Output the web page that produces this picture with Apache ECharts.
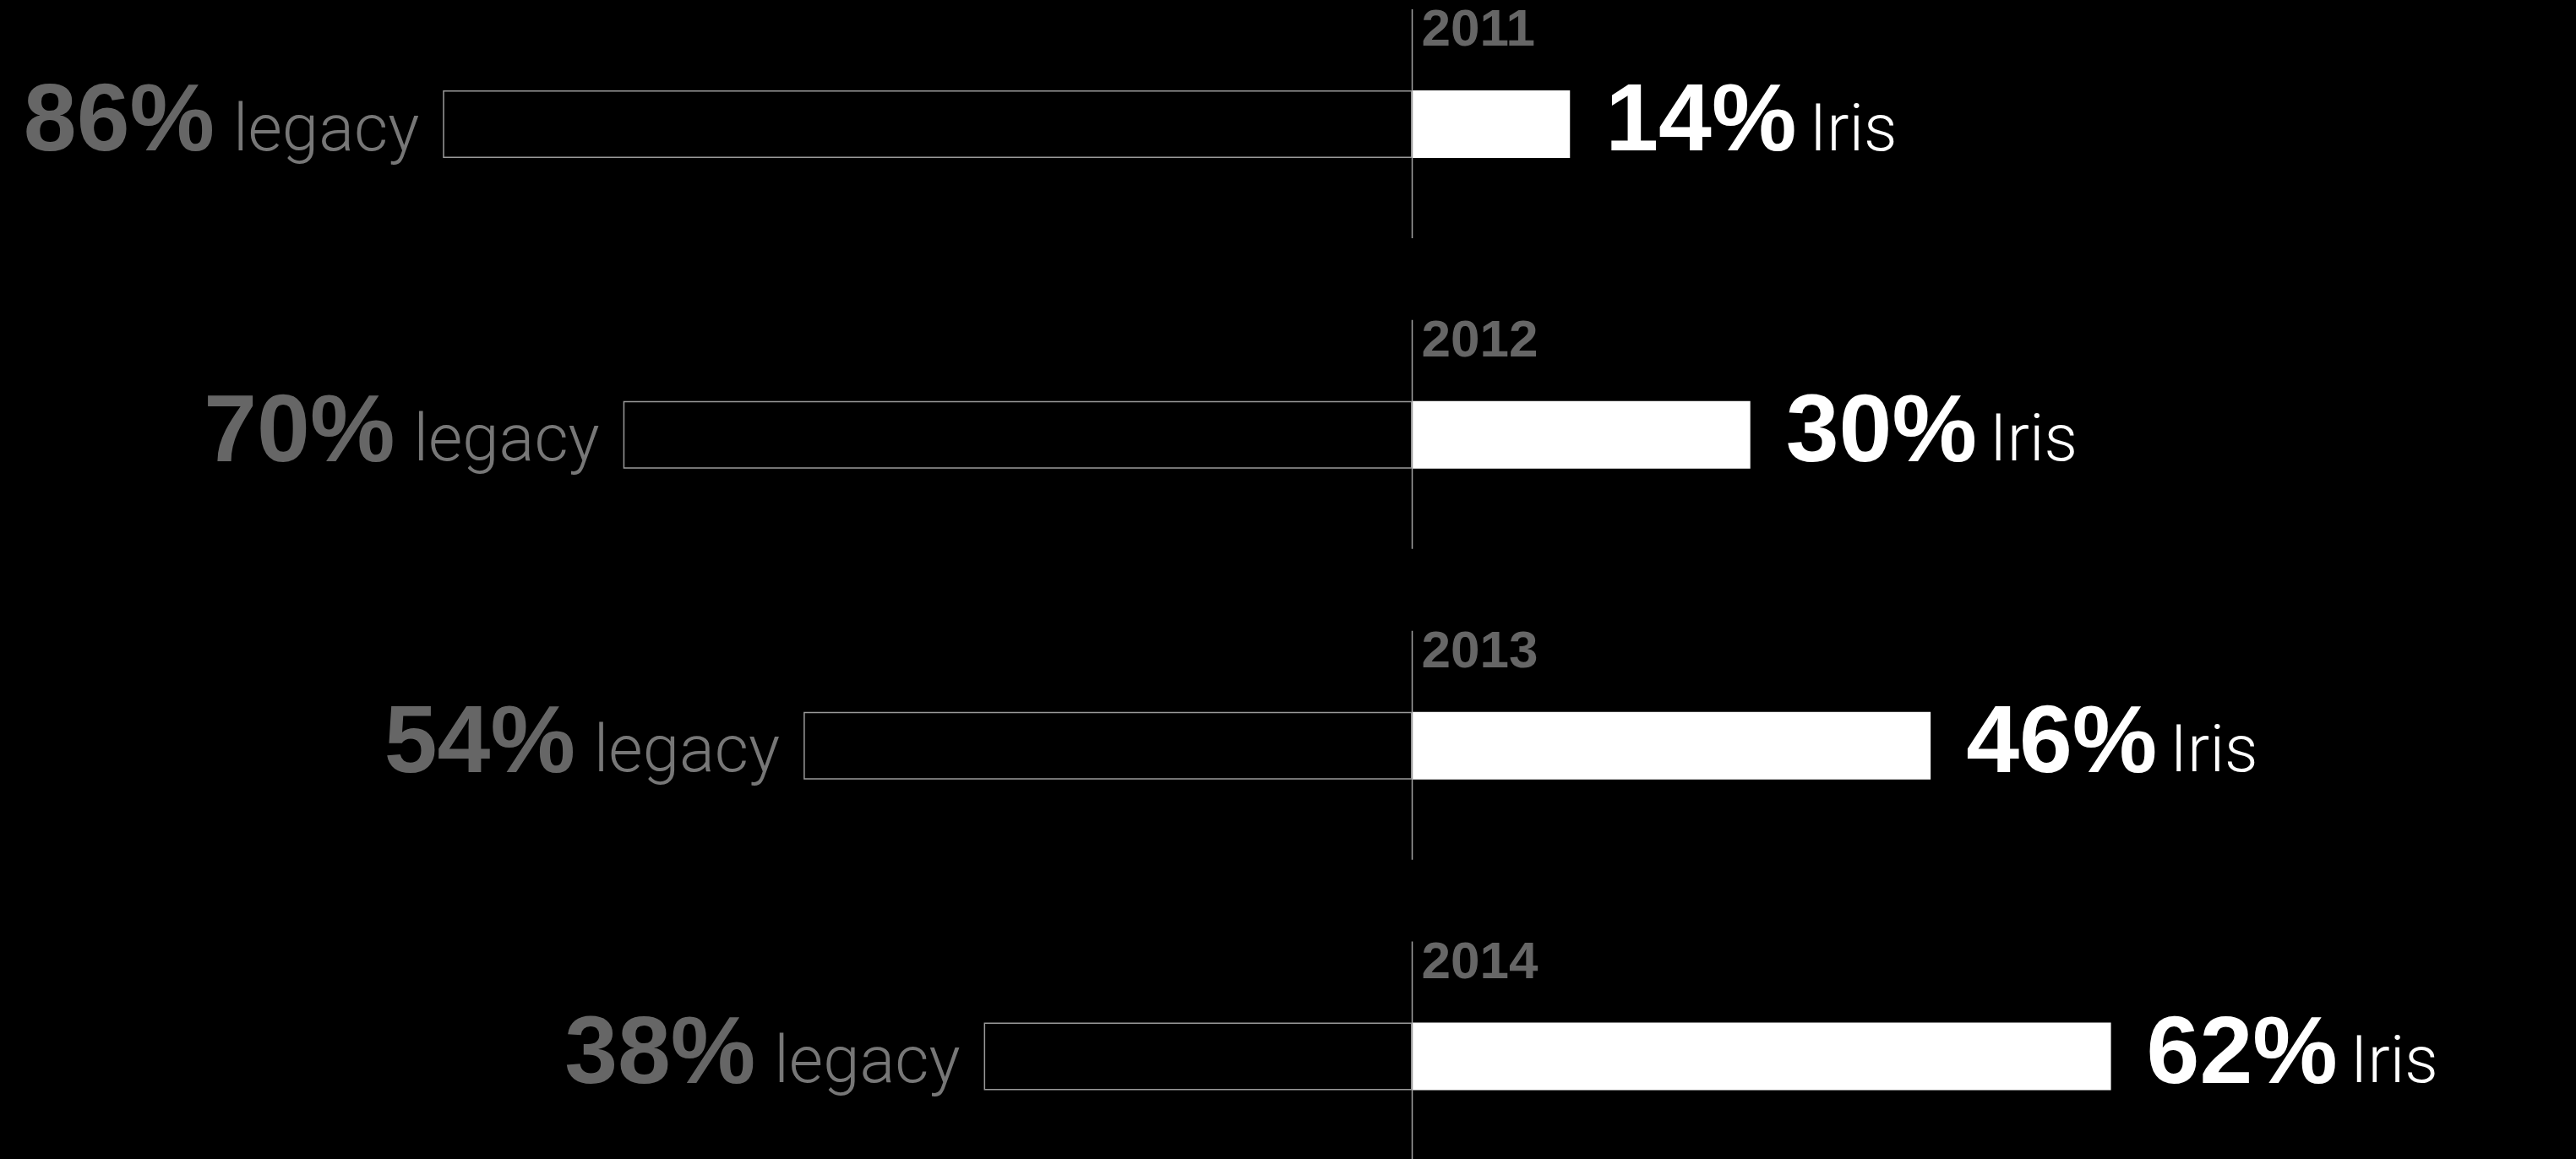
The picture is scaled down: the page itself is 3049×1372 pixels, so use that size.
<!DOCTYPE html>
<html>
<head>
<meta charset="utf-8">
<script src="https://cdn.jsdelivr.net/npm/echarts@6/dist/echarts.min.js"></script>
<style>
  html, body { margin: 0; padding: 0; background: #000; }
  #chart { width: 3049px; height: 1372px; }
</style>
</head>
<body>
<div id="chart"></div>
<script>
// Share of each platform per year (percent)
const years = ['2011', '2012', '2013', '2014'];
const legacyShare = [86, 70, 54, 38];
const irisShare = [14, 30, 46, 62];
const legacyName = 'legacy';
const irisName = 'Iris';

const boldFont = '"Liberation Sans", Arial, sans-serif';
const lightFont = 'Roboto, "Liberation Sans", sans-serif';

const chart = echarts.init(document.getElementById('chart'), null, { renderer: 'canvas' });

const numStyle = (color) => ({
  fontFamily: boldFont, fontWeight: 'bold', fontSize: 113, color: color
});
const wordStyle = (color, gap) => ({
  fontFamily: lightFont, fontWeight: 300, fontSize: 78, color: color,
  padding: [22, 0, 0, gap]
});

const option = {
  backgroundColor: '#000',
  animation: false,
  grid: {
    left: 4, width: 3001.5, top: -36.9, height: 1471.3,
    outerBoundsMode: 'none', containLabel: false
  },
  xAxis: { type: 'value', min: -125, max: 100, show: false },
  yAxis: { type: 'category', data: years, inverse: true, show: false },
  series: [
    {
      type: 'bar',
      name: legacyName,
      data: legacyShare.map(v => -v),
      barWidth: 80,
      barGap: '-100%',
      itemStyle: { color: '#000', borderColor: '#9a9a9a', borderWidth: 1.5 },
      label: {
        show: true,
        position: 'left',
        distance: 28,
        formatter: p => `{num|${-p.value}%}{txt|${legacyName}}`,
        rich: { num: numStyle('#666'), txt: wordStyle('#777', 22) }
      }
    },
    {
      type: 'bar',
      name: irisName,
      data: irisShare,
      barWidth: 80,
      barGap: '-100%',
      itemStyle: { color: '#fff' },
      label: {
        show: true,
        position: 'right',
        distance: 42,
        formatter: p => `{num|${p.value}%}{txt|${irisName}}`,
        rich: { num: numStyle('#fff'), txt: wordStyle('#fff', 15) }
      }
    },
    {
      // zero line segment and year heading for each row
      type: 'custom',
      clip: false,
      z: 5,
      data: years.map((y, i) => [0, i]),
      renderItem: (params, api) => {
        const c = api.coord([api.value(0), api.value(1)]);
        return {
          type: 'group',
          children: [
            {
              type: 'line',
              shape: { x1: c[0], y1: c[1] - 136, x2: c[0], y2: c[1] + 135 },
              style: { stroke: '#a0a0a0', lineWidth: 1.5 }
            },
            {
              type: 'text',
              x: c[0] + 11,
              y: c[1] - 110,
              style: {
                text: years[params.dataIndex],
                font: 'bold 62px "Liberation Sans", Arial, sans-serif',
                fill: '#666',
                align: 'left',
                verticalAlign: 'middle'
              }
            }
          ]
        };
      }
    }
  ]
};

chart.setOption(option);
</script>
</body>
</html>
